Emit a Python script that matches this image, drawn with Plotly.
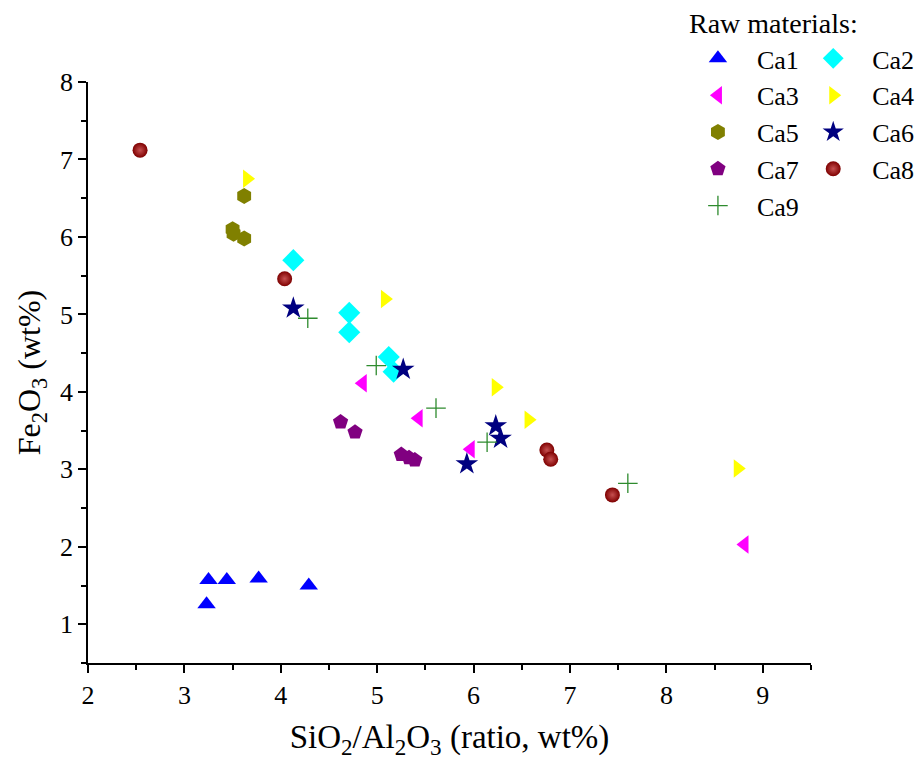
import plotly.graph_objects as go

# ---- data (SiO2/Al2O3 ratio, Fe2O3 wt%) ----
ca1_x = [3.25, 3.44, 3.77, 4.29, 3.23]
ca1_y = [1.57, 1.57, 1.59, 1.50, 1.26]
ca2_x = [4.13, 4.71, 4.71, 5.12, 5.17]
ca2_y = [5.70, 5.02, 4.77, 4.45, 4.26]
ca3_x = [4.85, 5.43, 5.97, 8.81]
ca3_y = [4.11, 3.66, 3.26, 2.03]
ca4_x = [3.65, 5.08, 6.23, 6.57, 8.74]
ca4_y = [6.75, 5.20, 4.06, 3.64, 3.01]
ca5_x = [3.62, 3.50, 3.51, 3.62]
ca5_y = [6.53, 6.10, 6.04, 5.98]
ca6_x = [4.13, 5.27, 6.23, 6.28, 5.93]
ca6_y = [5.08, 4.29, 3.56, 3.40, 3.07]
ca7_x = [4.62, 4.77, 5.25, 5.33, 5.39]
ca7_y = [3.61, 3.48, 3.19, 3.15, 3.12]
ca8_x = [2.54, 4.04, 6.76, 6.80, 7.44]
ca8_y = [7.12, 5.46, 3.25, 3.13, 2.67]
ca9_x = [4.28, 4.99, 5.61, 6.14, 7.60]
ca9_y = [4.95, 4.34, 3.79, 3.35, 2.82]

x_ticks = [2, 3, 4, 5, 6, 7, 8, 9]
y_ticks = [1, 2, 3, 4, 5, 6, 7, 8]

FONT = "Liberation Serif"

series = [
    ("Ca1", ca1_x, ca1_y, "triangle-up", "#0000ff", 16, "legend"),
    ("Ca2", ca2_x, ca2_y, "diamond", "#00ffff", 17, "legend2"),
    ("Ca3", ca3_x, ca3_y, "triangle-left", "#ff00ff", 16, "legend"),
    ("Ca4", ca4_x, ca4_y, "triangle-right", "#ffff00", 16, "legend2"),
    ("Ca5", ca5_x, ca5_y, "hexagon", "#808000", 16, "legend"),
    ("Ca6", ca6_x, ca6_y, "star", "#000080", 17, "legend2"),
    ("Ca7", ca7_x, ca7_y, "pentagon", "#800080", 16, "legend"),
    ("Ca8", ca8_x, ca8_y, "circle", "#8b0000", 15, "legend2"),
    ("Ca9", ca9_x, ca9_y, "cross-thin", "#2e8b2e", 14, "legend"),
]

fig = go.Figure()
for name, xs, ys, sym, col, size, leg in series:
    marker = dict(symbol=sym, color=col, size=size, line=dict(width=0))
    if sym == "cross-thin":
        marker["line"] = dict(width=1.3, color=col)
    if name == "Ca8":
        marker["color"] = "#7e0000"
        marker["gradient"] = dict(type="radial", color="#c65050")
    fig.add_trace(go.Scatter(x=xs, y=ys, mode="markers", name=name,
                             marker=marker, legend=leg))

L, R, T, B = 88, 104, 82, 97
W, H = 915, 760

axis_common = dict(
    showline=True, linecolor="black", linewidth=1.5, mirror=False,
    ticks="outside", ticklen=8, tickwidth=1.5, tickcolor="black",
    showgrid=False, zeroline=False,
    tickfont=dict(family=FONT, size=26, color="black"),
    minor=dict(ticks="outside", ticklen=5, tickwidth=1.5, tickcolor="black", dtick=0.5),
)

legend_common = dict(
    xanchor="left", yanchor="top", xref="container", yref="container",
    font=dict(family=FONT, size=26), bgcolor="rgba(0,0,0,0)",
    itemwidth=68, tracegroupgap=0,
)

fig.update_layout(
    width=W, height=H,
    margin=dict(l=L, r=R, t=T, b=B, autoexpand=False),
    paper_bgcolor="white", plot_bgcolor="white",
    font=dict(family=FONT, color="black"),
    xaxis=dict(range=[2, 9.5], tickvals=x_ticks,
               title=dict(text="SiO<sub>2</sub>/Al<sub>2</sub>O<sub>3</sub> (ratio, wt%)",
                          font=dict(family=FONT, size=33), standoff=20),
               **axis_common),
    yaxis=dict(range=[0.5, 8], tickvals=y_ticks,
               title=dict(text="Fe<sub>2</sub>O<sub>3</sub> (wt%)",
                          font=dict(family=FONT, size=32), standoff=10),
               **axis_common),
    legend=dict(x=0.742, y=0.954, **legend_common),
    legend2=dict(x=0.868, y=0.954, **legend_common),
    annotations=[dict(text="Raw materials:", x=0.829, y=1.1015, xref="paper", yref="paper",
                      xanchor="left", yanchor="middle", showarrow=False,
                      font=dict(family=FONT, size=28, color="black"))],
)

fig.write_html("out.html")
